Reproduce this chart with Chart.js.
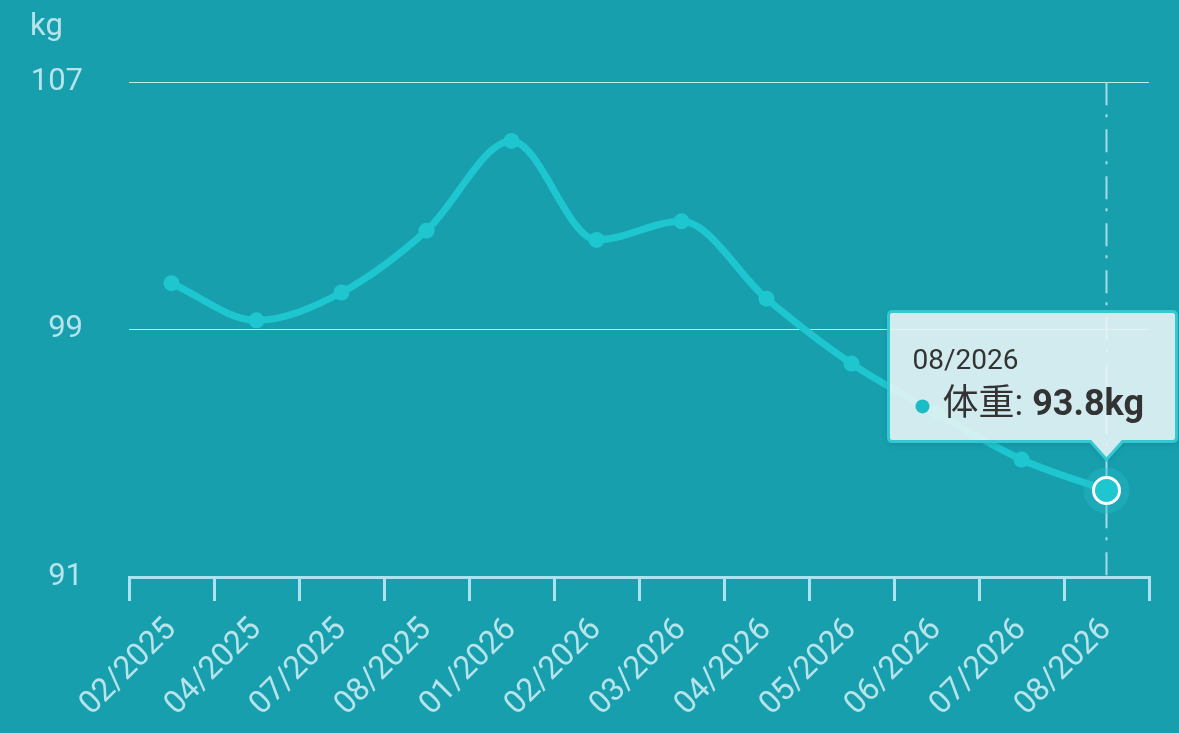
<!DOCTYPE html>
<html>
<head>
<meta charset="utf-8">
<script src="https://cdn.jsdelivr.net/npm/chart.js@4.4.1/dist/chart.umd.min.js"></script>
<style>
  html, body { margin: 0; padding: 0; background: #179fae; }
  #wrap { width: 1179px; height: 733px; }
</style>
</head>
<body>
<div id="wrap"><canvas id="chart"></canvas></div>
<script>
const FONT = 'Roboto, "Noto Sans CJK SC", sans-serif';

// months on the x axis
const months = ['02/2025', '04/2025', '07/2025', '08/2025', '01/2026', '02/2026',
  '03/2026', '04/2026', '05/2026', '06/2026', '07/2026', '08/2026'];
// weight in kg
const weights = [100.5, 99.3, 100.2, 102.2, 105.1, 101.9, 102.5, 100.0, 97.9, 96.3, 94.8, 93.8];
const yTicks = [91, 99, 107];

const seriesName = '体重';
const unit = 'kg';
const activeIndex = 11;

const LINE_COLOR = '#1ec6cf';
const AXIS_COLOR = '#aee2ee';
const LABEL_COLOR = '#b7e3ea';

// dashed guide + halo behind the line, tooltip on top
const focusPlugin = {
  id: 'focus',
  beforeDatasetsDraw(chart) {
    const { ctx, chartArea } = chart;
    const pt = chart.getDatasetMeta(0).data[activeIndex];
    ctx.save();
    ctx.strokeStyle = '#a6dce4';
    ctx.lineWidth = 2;
    ctx.setLineDash([23, 9, 3, 12]);
    ctx.beginPath();
    ctx.moveTo(pt.x, chartArea.top);
    ctx.lineTo(pt.x, chartArea.bottom);
    ctx.stroke();
    ctx.restore();
  },
  afterDatasetsDraw(chart) {
    const { ctx } = chart;
    const pt = chart.getDatasetMeta(0).data[activeIndex];
    ctx.save();
    ctx.fillStyle = 'rgba(40, 190, 200, 0.35)';
    ctx.beginPath();
    ctx.arc(pt.x, pt.y, 23, 0, Math.PI * 2);
    ctx.fill();
    ctx.fillStyle = LINE_COLOR;
    ctx.strokeStyle = '#ffffff';
    ctx.lineWidth = 3;
    ctx.beginPath();
    ctx.arc(pt.x, pt.y, 13, 0, Math.PI * 2);
    ctx.fill();
    ctx.stroke();
    ctx.restore();
  },
  afterDraw(chart) {
    const { ctx } = chart;
    const pt = chart.getDatasetMeta(0).data[activeIndex];
    const w = 288, h = 130, caretH = 18, caretW = 16;
    const right = pt.x + 70;
    const left = right - w;
    const bottom = pt.y - 31 - caretH;
    const top = bottom - h;
    const r = 4;

    ctx.save();
    ctx.shadowColor = 'rgba(0, 60, 70, 0.25)';
    ctx.shadowBlur = 6;
    ctx.shadowOffsetY = 2;
    ctx.beginPath();
    ctx.moveTo(left + r, top);
    ctx.lineTo(right - r, top);
    ctx.quadraticCurveTo(right, top, right, top + r);
    ctx.lineTo(right, bottom - r);
    ctx.quadraticCurveTo(right, bottom, right - r, bottom);
    ctx.lineTo(pt.x + caretW, bottom);
    ctx.lineTo(pt.x, bottom + caretH);
    ctx.lineTo(pt.x - caretW, bottom);
    ctx.lineTo(left + r, bottom);
    ctx.quadraticCurveTo(left, bottom, left, bottom - r);
    ctx.lineTo(left, top + r);
    ctx.quadraticCurveTo(left, top, left + r, top);
    ctx.closePath();
    ctx.fillStyle = 'rgba(242, 251, 252, 0.86)';
    ctx.fill();
    ctx.shadowColor = 'transparent';
    ctx.strokeStyle = '#36c8d1';
    ctx.lineWidth = 3;
    ctx.stroke();

    ctx.fillStyle = '#333333';
    ctx.textBaseline = 'middle';
    ctx.textAlign = 'left';
    ctx.font = '28px ' + FONT;
    ctx.fillText(months[activeIndex], left + 24, top + 51);

    const rowY = top + 95;
    ctx.fillStyle = '#1bbcc6';
    ctx.beginPath();
    ctx.arc(left + 34, rowY, 7, 0, Math.PI * 2);
    ctx.fill();

    ctx.fillStyle = '#333333';
    ctx.font = '36px ' + FONT;
    const lbl = seriesName + ': ';
    ctx.fillText(lbl, left + 54, rowY);
    const lw = ctx.measureText(lbl).width;
    ctx.font = 'bold 36px ' + FONT;
    ctx.fillText(weights[activeIndex] + unit, left + 54 + lw, rowY);
    ctx.restore();
  }
};

new Chart(document.getElementById('chart'), {
  type: 'line',
  data: {
    labels: months,
    datasets: [{
      label: seriesName,
      data: weights,
      borderColor: LINE_COLOR,
      backgroundColor: LINE_COLOR,
      borderWidth: 7,
      pointRadius: ctx => ctx.dataIndex === activeIndex ? 0 : 8,
      pointBorderWidth: 0,
      pointBackgroundColor: LINE_COLOR,
      cubicInterpolationMode: 'monotone',
      fill: false
    }]
  },
  options: {
    responsive: true,
    maintainAspectRatio: false,
    animation: false,
    layout: { padding: { left: 30, right: 30, top: 0, bottom: 0 } },
    plugins: {
      legend: { display: false },
      tooltip: { enabled: false },
      title: {
        display: true,
        text: unit,
        align: 'start',
        color: LABEL_COLOR,
        font: { family: FONT, size: 31, weight: 'normal' },
        padding: { top: 9, bottom: 36 }
      }
    },
    scales: {
      x: {
        offset: true,
        afterFit(scale) { scale.height = 156; },
        grid: {
          offset: true,
          drawOnChartArea: false,
          drawTicks: true,
          tickLength: 24,
          color: AXIS_COLOR,
          lineWidth: 3
        },
        border: { display: true, color: AXIS_COLOR, width: 3 },
        ticks: {
          color: LABEL_COLOR,
          font: { family: FONT, size: 32 },
          maxRotation: 45,
          minRotation: 45,
          padding: 10,
          autoSkip: false
        }
      },
      y: {
        min: yTicks[0],
        max: yTicks[yTicks.length - 1],
        afterFit(scale) { scale.width = 99; },
        afterBuildTicks(scale) { scale.ticks = yTicks.map(v => ({ value: v })); },
        grid: {
          drawTicks: false,
          color: ctx => ctx.tick && ctx.tick.value === yTicks[0] ? 'transparent' : 'rgba(255,255,255,0.75)',
          lineWidth: 1
        },
        border: { display: false },
        ticks: {
          color: LABEL_COLOR,
          font: { family: FONT, size: 31 },
          padding: 46
        }
      }
    }
  },
  plugins: [focusPlugin]
});
</script>
</body>
</html>
